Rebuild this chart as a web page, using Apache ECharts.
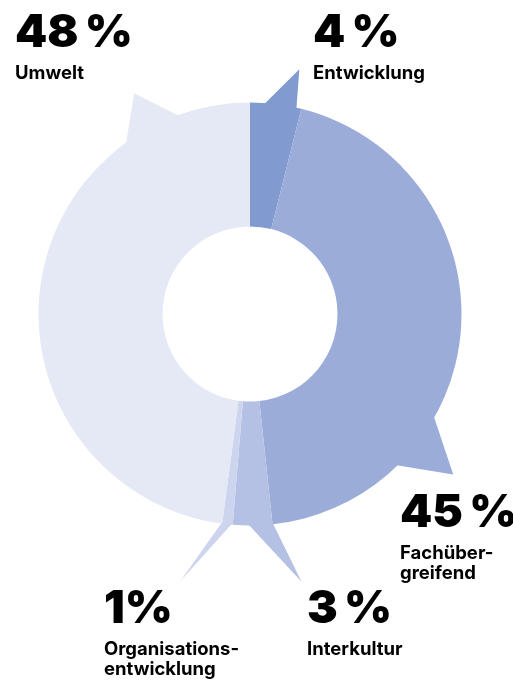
<!DOCTYPE html>
<html>
<head>
<meta charset="utf-8">
<script src="https://cdn.jsdelivr.net/npm/echarts@6/dist/echarts.min.js"></script>
<style>
  html, body { margin: 0; padding: 0; background: #fff; }
  #chart { width: 513px; height: 683px; }
</style>
</head>
<body>
<div id="chart"></div>
<script>
// slices, clockwise from 12 o'clock
const categories = ['Entwicklung', 'Fachübergreifend', 'Interkultur', 'Organisationsentwicklung', 'Umwelt'];
const shares = [3.9, 44.4, 3.0, 0.8, 47.9];
const pctLabels = ['4\u2009%', '45\u2009%', '3\u2009%', '1%', '48\u2009%'];
const nameLabels = ['Entwicklung', 'Fachüber-\ngreifend', 'Interkultur', 'Organisations-\nentwicklung', 'Umwelt'];

// layout / style
const colors = ['#819acf', '#9bacd8', '#b4c0e4', '#cdd4ee', '#e5e8f5'];
const CX = 250, CY = 314, R_IN = 87.5, R_OUT = 211.5;
// label box top-left
const labelPos = [[313, 3], [400, 483], [307, 579], [104, 579], [15, 3]];
// tail: base from/to (fraction of slice), tip angle (deg clockwise from top), tip radius
const tails = [
  [0.26, 0.91, 11.4, 249.6],
  [0.656, 0.764, 128.3, 259],
  [0.0, 0.63, 169.1, 272.6],
  [0.0, 1.0, 194.6, 275.8],
  [0.789, 0.887, 332.3, 249.2]
];

const total = shares.reduce((a, b) => a + b, 0);
const starts = shares.map((v, i) => shares.slice(0, i).reduce((a, b) => a + b, 0) / total * 360);

function pt(deg, r) {
  const a = deg * Math.PI / 180;
  return [CX + r * Math.sin(a), CY - r * Math.cos(a)];
}

const chart = echarts.init(document.getElementById('chart'));
chart.setOption({
  animation: false,
  textStyle: { fontFamily: 'Inter, "Noto Sans", sans-serif' },
  series: [
    {
      type: 'custom',
      coordinateSystem: 'none',
      silent: true,
      z: 1,
      data: shares.map((v, i) => [i, v]),
      renderItem: (params, api) => {
        const i = params.dataIndex;
        const span = shares[i] / total * 360;
        const t = tails[i];
        const a1 = starts[i] + span * t[0];
        const a2 = starts[i] + span * t[1];
        return {
          type: 'polygon',
          shape: { points: [pt(a1, R_OUT - 2), pt(t[2], t[3]), pt(a2, R_OUT - 2)] },
          style: { fill: colors[i] }
        };
      }
    },
    {
      type: 'pie',
      z: 2,
      center: [CX, CY],
      radius: [R_IN, R_OUT],
      startAngle: 90,
      clockwise: true,
      silent: true,
      avoidLabelOverlap: false,
      itemStyle: { borderWidth: 0 },
      labelLine: { show: false },
      label: {
        show: true,
        color: '#000',
        overflow: 'none',
        formatter: p => '{pct|' + pctLabels[p.dataIndex] + '}\n' +
          nameLabels[p.dataIndex].split('\n').map(s => '{name|' + s + '}').join('\n'),
        rich: {
          pct: { fontSize: 46, fontWeight: 900, lineHeight: 60, color: '#000' },
          name: { fontSize: 18.5, fontWeight: 700, lineHeight: 20, color: '#000' }
        }
      },
      labelLayout: p => ({
        x: labelPos[p.dataIndex][0],
        y: labelPos[p.dataIndex][1],
        align: 'left',
        verticalAlign: 'top',
        hideOverlap: false
      }),
      data: categories.map((c, i) => ({
        name: c,
        value: shares[i],
        itemStyle: { color: colors[i] }
      }))
    }
  ]
});
window.addEventListener('resize', () => chart.resize());
</script>
</body>
</html>
